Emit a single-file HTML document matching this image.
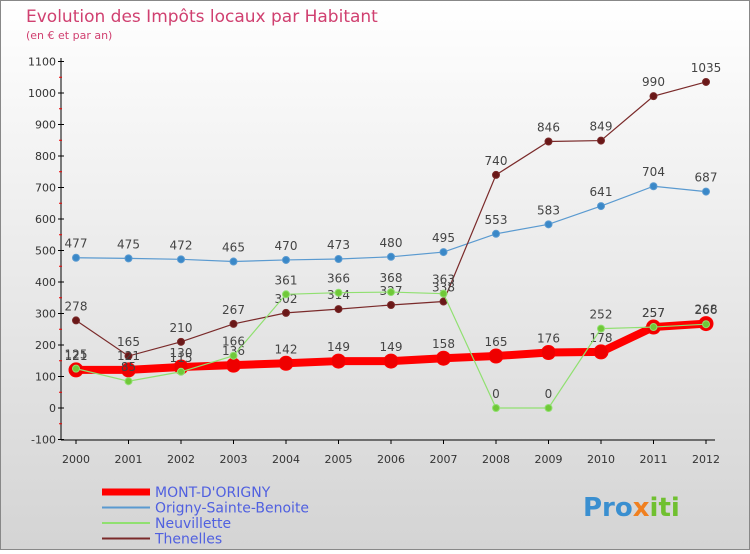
<!DOCTYPE html>
<html><head><meta charset="utf-8"><style>
body{margin:0;width:750px;height:550px;overflow:hidden;font-family:"DejaVu Sans","Liberation Sans",sans-serif}
</style></head><body>
<svg width="750" height="550" xmlns="http://www.w3.org/2000/svg">
<defs><linearGradient id="bg" x1="0" y1="0" x2="0" y2="1"><stop offset="0" stop-color="#ffffff"/><stop offset="1" stop-color="#d4d4d4"/></linearGradient></defs>
<rect x="0.5" y="0.5" width="749" height="549" fill="url(#bg)" stroke="#888"/>
<text x="26" y="22" font-size="17" fill="#d04070">Evolution des Impôts locaux par Habitant</text>
<text x="26" y="39" font-size="11" fill="#d04070">(en € et par an)</text>
<g id="axes"></g><g id="series"></g><g id="legend"></g>
<text x="583" y="516" font-size="26" font-weight="bold" fill="#3a8fd0">Pro<tspan fill="#f08020">x</tspan><tspan fill="#70c030">iti</tspan></text>
</svg>
<script>
const years=[2000,2001,2002,2003,2004,2005,2006,2007,2008,2009,2010,2011,2012];
const yTicks=[-100,0,100,200,300,400,500,600,700,800,900,1000,1100];
const mont=[121,121,130,136,142,149,149,158,165,176,178,257,268];
const origny=[477,475,472,465,470,473,480,495,553,583,641,704,687];
const neuv=[125,85,115,166,361,366,368,363,0,0,252,257,266];
const then=[278,165,210,267,302,314,327,338,740,846,849,990,1035];
const NS="http://www.w3.org/2000/svg";
const X=i=>76+i*52.5, Y=v=>408-v*0.315;
function mk(t,a,p){const e=document.createElementNS(NS,t);for(const k in a)e.setAttribute(k,a[k]);p.appendChild(e);return e;}
const ax=document.getElementById('axes');
let l=mk('line',{x1:61,y1:58,x2:61,y2:440,stroke:'#000'},ax);


l=mk('line',{x1:61,y1:440,x2:715,y2:440,stroke:'#000'},ax);


yTicks.forEach((v,i)=>{
 mk('line',{x1:58,x2:64,y1:Y(v),y2:Y(v),stroke:'#000'},ax);
 if(i<yTicks.length-1)mk('line',{x1:59,x2:62,y1:Y(v+50),y2:Y(v+50),stroke:'#e00'},ax);
 const t=mk('text',{x:56,y:Y(v)+4,'font-size':11,'text-anchor':'end',fill:'#333'},ax);t.textContent=v;
 
 
});
years.forEach((y,i)=>{
 mk('line',{x1:X(i),x2:X(i),y1:440,y2:444,stroke:'#000'},ax);
 const t=mk('text',{x:X(i),y:463,'font-size':11,'text-anchor':'middle',fill:'#333'},ax);t.textContent=y;
 
 
});
const sg=document.getElementById('series');
function draw(name,d,col,w,r,fill){
 const g=mk('g',{},sg);
 
 
 const p=mk('polyline',{points:d.map((v,i)=>X(i)+','+Y(v)).join(' '),fill:'none',stroke:col,'stroke-width':w},g);
 
 
 d.forEach((v,i)=>{
  const c=mk('circle',{cx:X(i),cy:Y(v),r:r,fill:fill,stroke:col,'stroke-width':1},g);
  
  
  const t=mk('text',{x:X(i),y:Y(v)-10,'font-size':12,'text-anchor':'middle',fill:'#444'},g);t.textContent=v;
  
  
 });
}
draw('origny',origny,'#5a9ad0',1.2,3.5,'#3a88c8');
draw('thenelles',then,'#7a2a2a',1.2,3.5,'#6a1818');
draw('mont-d-origny',mont,'#ff0000',8,7,'#ee0000');
draw('neuvillette',neuv,'#90e070',1.2,3.5,'#70c838');
const lg=document.getElementById('legend');
const items=[['MONT-D\'ORIGNY','#ff0000',7],['Origny-Sainte-Benoite','#5a9ad0',2],['Neuvillette','#90e070',2],['Thenelles','#7a2a2a',2]];
items.forEach((it,i)=>{
 const y=492+i*15.5;
 const e=mk('line',{x1:102,x2:150,y1:y,y2:y,stroke:it[1],'stroke-width':it[2]},lg);
 
 
 const t=mk('text',{x:155,y:y+5,'font-size':14,fill:'#5060e0'},lg);t.textContent=it[0];
 
 
});
</script>
</body></html>
